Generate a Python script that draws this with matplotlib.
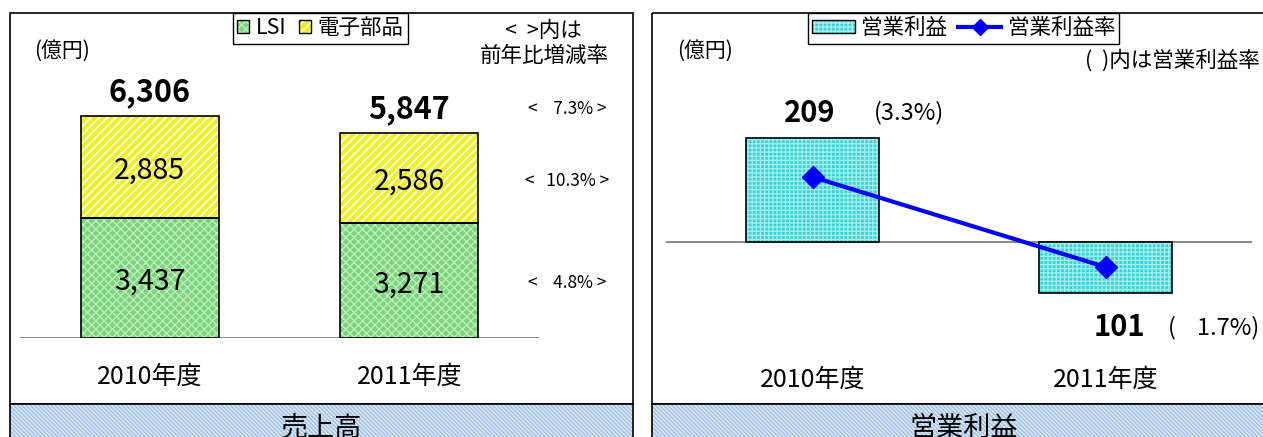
import matplotlib
matplotlib.use('Agg')
import matplotlib.pyplot as plt
from matplotlib.patches import Rectangle, Patch
from matplotlib.lines import Line2D

plt.rcParams['font.family'] = ['Noto Sans CJK JP', 'DejaVu Sans']
plt.rcParams['hatch.linewidth'] = 1.0

# ---------------- data ----------------
years = ['2010年度', '2011年度']
lsi = [3437, 3271]
parts = [2885, 2586]
totals = [6306, 5847]
growth_labels = ['<    7.3% >', '<   10.3% >', '<    4.8% >']   # total, 電子部品, LSI
sales_title = '売上高'
op_profit = [209, -101]
op_margin = [3.3, -1.7]
profit_labels = ['209', '101']
margin_labels = ['(3.3%)', '(    1.7%)']
op_title = '営業利益'

W, H = 1263, 437
P = 72.0 / 100.0   # points per pixel
fig = plt.figure(figsize=(W / 100, H / 100), dpi=100)


def px_axes(x0, y0, x1, y1):
    return fig.add_axes([x0 / W, 1 - y1 / H, (x1 - x0) / W, (y1 - y0) / H])


def set_hlw(patches, w):
    for p in patches:
        if hasattr(p, 'set_hatch_linewidth'):
            p.set_hatch_linewidth(w)


# background / frames (pixel coordinates)
bg = px_axes(0, 0, W, H)
bg.set_xlim(0, W)
bg.set_ylim(H, 0)
bg.axis('off')

BAND_FC, BAND_HC = '#dbe8f5', '#9fc1e3'
for x0 in (10, 652):
    bg.add_patch(Rectangle((x0, 13), 623, 391, fill=False, ec='black', lw=1.2))
    band = Rectangle((x0, 404), 623, 45, fc=BAND_FC, ec=BAND_HC, lw=0, hatch='\\\\\\\\\\\\\\\\')
    bg.add_patch(band)
    set_hlw([band], 1.0)
    bg.add_patch(Rectangle((x0, 404), 623, 45, fill=False, ec='black', lw=1.2))

bg.text(321.5, 428, sales_title, ha='center', va='center', fontsize=19.5)
bg.text(963.5, 428, op_title, ha='center', va='center', fontsize=19.5)

bg.text(62, 51, '(億円)', ha='center', va='center', fontsize=15)
bg.text(543, 31, '<  >内は', ha='center', va='center', fontsize=15.5)
bg.text(544, 56, '前年比増減率', ha='center', va='center', fontsize=15.5)
bg.text(705, 51, '(億円)', ha='center', va='center', fontsize=15)
bg.text(1172, 61, '(  )内は営業利益率', ha='center', va='center', fontsize=15.5)

# ---------------- left: sales ----------------
G_FC, G_HC = '#7ed47e', '#bff2bf'
Y_FC, Y_HC = '#eeee22', '#fcfcd8'
ax1 = px_axes(20, 60, 539, 338)
ax1.set_xlim(-0.5, 1.5)
ax1.set_ylim(0, 7932)
ax1.axis('off')
x = [0, 1]
bw = 0.53
b = ax1.bar(x, lsi, bw, color=G_FC, edgecolor=G_HC, lw=0, hatch='xxxx', zorder=2)
set_hlw(b, 0.9)
ax1.bar(x, lsi, bw, fill=False, edgecolor='black', lw=1.2, zorder=3)
b = ax1.bar(x, parts, bw, bottom=lsi, color=Y_FC, edgecolor=Y_HC, lw=0, hatch='////', zorder=2)
set_hlw(b, 1.5)
ax1.bar(x, parts, bw, bottom=lsi, fill=False, edgecolor='black', lw=1.2, zorder=3)
ax1.axhline(0, color='#808080', lw=1.3, zorder=1)

for i in x:
    ax1.annotate(f'{lsi[i]:,}', xy=(i, lsi[i] / 2), xytext=(0, -4 * P), textcoords='offset points',
                 ha='center', va='center', fontsize=20.5)
    ax1.annotate(f'{parts[i]:,}', xy=(i, lsi[i] + parts[i] / 2), xytext=(0, -4 * P),
                 textcoords='offset points', ha='center', va='center', fontsize=20.5)
    ax1.annotate(f'{totals[i]:,}', xy=(i, lsi[i] + parts[i]), xytext=(0, 24 * P),
                 textcoords='offset points', ha='center', va='center', fontsize=22, fontweight='bold')
    ax1.annotate(years[i], xy=(i, 0), xytext=(0, -39 * P), textcoords='offset points',
                 ha='center', va='center', fontsize=18, annotation_clip=False)

gx = 158 * P
ax1.annotate(growth_labels[0], xy=(1, lsi[1] + parts[1]), xytext=(gx, 24 * P), textcoords='offset points',
             ha='center', va='center', fontsize=12.5, annotation_clip=False)
ax1.annotate(growth_labels[1], xy=(1, lsi[1] + parts[1] / 2), xytext=(gx, -3 * P), textcoords='offset points',
             ha='center', va='center', fontsize=12.5, annotation_clip=False)
ax1.annotate(growth_labels[2], xy=(1, lsi[1] / 2), xytext=(gx, -2 * P), textcoords='offset points',
             ha='center', va='center', fontsize=12.5, annotation_clip=False)

h_g = (Patch(facecolor=G_FC, edgecolor=G_HC, hatch='xxxx', lw=0), Patch(fill=False, edgecolor='black', lw=1))
h_y = (Patch(facecolor=Y_FC, edgecolor=Y_HC, hatch='////', lw=0), Patch(fill=False, edgecolor='black', lw=1))
leg1 = fig.legend(handles=[h_g, h_y], labels=['LSI', '電子部品'], loc='upper center',
                  bbox_to_anchor=(320.5 / W, 1 - 13 / H), ncol=2, fontsize=15.5, frameon=True,
                  fancybox=False, edgecolor='black', framealpha=1, borderpad=0.2, borderaxespad=0,
                  handlelength=0.55, handleheight=0.55, handletextpad=0.3, columnspacing=0.6)
leg1.get_frame().set_linewidth(1.0)

# ---------------- right: operating profit ----------------
C_FC, C_HC = '#3dd3d3', '#a4f0f0'
ax2 = px_axes(666, 60, 1252, 338)
ax2.set_xlim(-0.5, 1.5)
ax2.set_ylim(-192, 364)
ax2.axis('off')
bw2 = 0.457
b = ax2.bar(x, op_profit, bw2, color=C_FC, edgecolor=C_HC, lw=0, hatch='++++', zorder=2)
set_hlw(b, 0.9)
ax2.bar(x, op_profit, bw2, fill=False, edgecolor='black', lw=1.2, zorder=3)
ax2.axhline(0, color='#808080', lw=1.3, zorder=1)

ax3 = ax2.twinx()
ax3.set_ylim(-5.644, 9.8)
ax3.axis('off')
ax3.plot(x, op_margin, color='#0000ff', lw=3, marker='D', ms=11.5, zorder=5)

ax2.annotate(profit_labels[0], xy=(0, op_profit[0]), xytext=(-3 * P, 25 * P), textcoords='offset points',
             ha='center', va='center', fontsize=21, fontweight='bold')
ax2.annotate(margin_labels[0], xy=(0, op_profit[0]), xytext=(97 * P, 25 * P), textcoords='offset points',
             ha='center', va='center', fontsize=17)
ax2.annotate(profit_labels[1], xy=(1, op_profit[1]), xytext=(14 * P, -35 * P), textcoords='offset points',
             ha='center', va='center', fontsize=21, fontweight='bold', annotation_clip=False)
ax2.annotate(margin_labels[1], xy=(1, op_profit[1]), xytext=(62 * P, -35 * P), textcoords='offset points',
             ha='left', va='center', fontsize=17, annotation_clip=False)
for i in x:
    ax2.annotate(years[i], xy=(i, -192), xytext=(0, -42 * P), textcoords='offset points',
                 ha='center', va='center', fontsize=18, annotation_clip=False)

h_c = (Patch(facecolor=C_FC, edgecolor=C_HC, hatch='++++', lw=0), Patch(fill=False, edgecolor='black', lw=1))
h_l = Line2D([], [], color='#0000ff', lw=3, marker='D', ms=8)
leg2 = fig.legend(handles=[h_c, h_l], labels=['営業利益', '営業利益率'], loc='upper center',
                  bbox_to_anchor=(963.5 / W, 1 - 13 / H), ncol=2, fontsize=15.5, frameon=True,
                  fancybox=False, edgecolor='black', framealpha=1, borderpad=0.2, borderaxespad=0,
                  handlelength=2.0, handleheight=0.55, handletextpad=0.3, columnspacing=0.5)
leg2.get_frame().set_linewidth(1.0)

fig.savefig('out.png', dpi=100)
